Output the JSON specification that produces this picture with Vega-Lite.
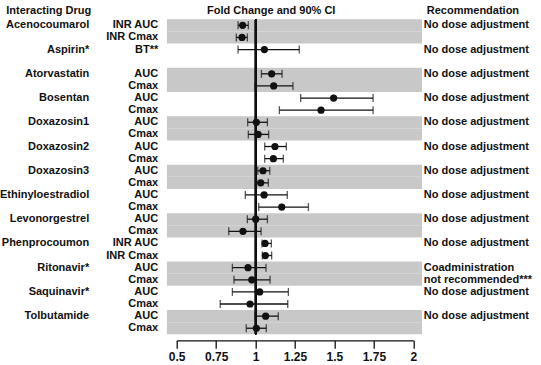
{
  "$schema": "https://vega.github.io/schema/vega-lite/v6.json",
  "width": 236.6,
  "height": 315,
  "autosize": {"type": "none"},
  "padding": {"left": 176.7, "top": 19.3, "right": 127.7, "bottom": 30.7},
  "background": "white",
  "config": {
    "view": {"stroke": null},
    "mark": {"invalid": "break-paths-show-domains"},
    "axis": {
      "labelFont": "Liberation Sans, Arial, sans-serif",
      "labelFontWeight": "bold",
      "labelFontSize": 11,
      "labelColor": "#111111",
      "titleFont": "Liberation Sans, Arial, sans-serif",
      "titleFontWeight": "bold",
      "titleFontSize": 11,
      "titleColor": "#111111",
      "grid": false
    }
  },
  "data": {
    "values": [
      {"drug": "Acenocoumarol", "param": "INR AUC", "est": 0.918, "lo": 0.889, "hi": 0.954, "rec": "No dose adjustment"},
      {"drug": "Acenocoumarol", "param": "INR Cmax", "est": 0.914, "lo": 0.878, "hi": 0.948, "rec": ""},
      {"drug": "Aspirin*", "param": "BT**", "est": 1.056, "lo": 0.889, "hi": 1.277, "rec": "No dose adjustment"},
      {"drug": "", "param": "", "est": null, "lo": null, "hi": null, "rec": ""},
      {"drug": "Atorvastatin", "param": "AUC", "est": 1.102, "lo": 1.037, "hi": 1.168, "rec": "No dose adjustment"},
      {"drug": "Atorvastatin", "param": "Cmax", "est": 1.115, "lo": 0.997, "hi": 1.237, "rec": ""},
      {"drug": "Bosentan", "param": "AUC", "est": 1.495, "lo": 1.286, "hi": 1.745, "rec": "No dose adjustment"},
      {"drug": "Bosentan", "param": "Cmax", "est": 1.415, "lo": 1.151, "hi": 1.745, "rec": ""},
      {"drug": "Doxazosin1", "param": "AUC", "est": 1.005, "lo": 0.95, "hi": 1.075, "rec": "No dose adjustment"},
      {"drug": "Doxazosin1", "param": "Cmax", "est": 1.016, "lo": 0.954, "hi": 1.083, "rec": ""},
      {"drug": "Doxazosin2", "param": "AUC", "est": 1.123, "lo": 1.058, "hi": 1.195, "rec": "No dose adjustment"},
      {"drug": "Doxazosin2", "param": "Cmax", "est": 1.113, "lo": 1.058, "hi": 1.176, "rec": ""},
      {"drug": "Doxazosin3", "param": "AUC", "est": 1.047, "lo": 1.014, "hi": 1.09, "rec": "No dose adjustment"},
      {"drug": "Doxazosin3", "param": "Cmax", "est": 1.033, "lo": 1.007, "hi": 1.081, "rec": ""},
      {"drug": "Ethinyloestradiol", "param": "AUC", "est": 1.054, "lo": 0.935, "hi": 1.201, "rec": "No dose adjustment"},
      {"drug": "Ethinyloestradiol", "param": "Cmax", "est": 1.166, "lo": 1.02, "hi": 1.335, "rec": ""},
      {"drug": "Levonorgestrel", "param": "AUC", "est": 1.001, "lo": 0.948, "hi": 1.075, "rec": "No dose adjustment"},
      {"drug": "Levonorgestrel", "param": "Cmax", "est": 0.92, "lo": 0.83, "hi": 1.035, "rec": ""},
      {"drug": "Phenprocoumon", "param": "INR AUC", "est": 1.06, "lo": 1.041, "hi": 1.1, "rec": "No dose adjustment"},
      {"drug": "Phenprocoumon", "param": "INR Cmax", "est": 1.062, "lo": 1.043, "hi": 1.102, "rec": ""},
      {"drug": "Ritonavir*", "param": "AUC", "est": 0.952, "lo": 0.853, "hi": 1.066, "rec": "Coadministration"},
      {"drug": "Ritonavir*", "param": "Cmax", "est": 0.976, "lo": 0.863, "hi": 1.092, "rec": "not recommended***"},
      {"drug": "Saquinavir*", "param": "AUC", "est": 1.026, "lo": 0.853, "hi": 1.208, "rec": "No dose adjustment"},
      {"drug": "Saquinavir*", "param": "Cmax", "est": 0.965, "lo": 0.776, "hi": 1.204, "rec": ""},
      {"drug": "Tolbutamide", "param": "AUC", "est": 1.064, "lo": 0.997, "hi": 1.144, "rec": "No dose adjustment"},
      {"drug": "Tolbutamide", "param": "Cmax", "est": 1.005, "lo": 0.941, "hi": 1.068, "rec": ""}
    ]
  },
  "transform": [
    {"calculate": "datum.drug + '|' + datum.param + '|' + datum.rec", "as": "key"}
  ],
  "resolve": {"axis": {"x": "independent", "y": "independent"}},
  "layer": [
    {
      "mark": {"type": "rect"},
      "encoding": {
        "y": {"field": "key", "type": "nominal", "sort": null, "axis": null,
              "scale": {"type": "band", "paddingInner": 0, "paddingOuter": 0}},
        "x": {"datum": 0.438, "type": "quantitative", "axis": null,
              "scale": {"domain": [0.5, 2], "nice": false, "zero": false}},
        "x2": {"datum": 2.055},
        "fill": {
          "condition": {"test": "indexof(['Acenocoumarol','Atorvastatin','Doxazosin1','Doxazosin3','Levonorgestrel','Ritonavir*','Tolbutamide'], datum.drug) >= 0", "value": "#c8c8c8"},
          "value": "transparent"
        }
      }
    },
    {
      "mark": {"type": "rule", "color": "#111111", "strokeWidth": 1.2},
      "encoding": {
        "x": {"datum": 1, "type": "quantitative", "axis": null}
      }
    },
    {
      "mark": {"type": "rule", "color": "#111111", "strokeWidth": 1.3},
      "encoding": {
        "y": {"field": "key", "type": "nominal", "sort": null,
              "scale": {"type": "band", "paddingInner": 0, "paddingOuter": 0},
              "axis": {
                "orient": "left", "ticks": false, "domain": false, "labelPadding": 88,
                "labelOverlap": false, "labelLimit": 200,
                "labelExpr": "test(/Cmax/, split(datum.value, '|')[1]) ? '' : split(datum.value, '|')[0]",
                "title": "Interacting Drug", "titleAngle": 0, "titleAlign": "left",
                "titleBaseline": "middle", "titleX": -171, "titleY": -9,
                "titleColor": "#111111", "titleFontWeight": "bold", "titleFontSize": 11,
                "titleFont": "Liberation Sans, Arial, sans-serif"
              }},
        "x": {"field": "lo", "type": "quantitative", "axis": null},
        "x2": {"field": "hi"}
      }
    },
    {
      "mark": {"type": "tick", "color": "#111111", "size": 8, "thickness": 1.3},
      "encoding": {
        "y": {"field": "key", "type": "nominal", "sort": null,
              "scale": {"type": "band", "paddingInner": 0, "paddingOuter": 0},
              "axis": {
                "orient": "left", "ticks": false, "domain": false, "labelPadding": 19,
                "labelOverlap": false, "labelLimit": 200,
                "labelExpr": "split(datum.value, '|')[1]",
                "title": "Fold Change and 90% CI", "titleAngle": 0, "titleAlign": "center",
                "titleBaseline": "middle", "titleX": 94, "titleY": -9,
                "titleColor": "#111111", "titleFontWeight": "bold", "titleFontSize": 11,
                "titleFont": "Liberation Sans, Arial, sans-serif"
              }},
        "x": {"field": "lo", "type": "quantitative", "axis": null}
      }
    },
    {
      "mark": {"type": "tick", "color": "#111111", "size": 8, "thickness": 1.3},
      "encoding": {
        "y": {"field": "key", "type": "nominal", "sort": null,
              "scale": {"type": "band", "paddingInner": 0, "paddingOuter": 0},
              "axis": {
                "orient": "right", "ticks": false, "domain": false, "labelPadding": 10,
                "labelOverlap": false, "labelLimit": 200,
                "labelExpr": "split(datum.value, '|')[2]",
                "title": "Recommendation", "titleAngle": 0, "titleAlign": "left",
                "titleBaseline": "middle", "titleX": 13, "titleY": -9,
                "titleColor": "#111111", "titleFontWeight": "bold", "titleFontSize": 11,
                "titleFont": "Liberation Sans, Arial, sans-serif"
              }},
        "x": {"field": "hi", "type": "quantitative", "axis": null}
      }
    },
    {
      "mark": {"type": "point", "filled": true, "color": "#111111", "size": 52, "opacity": 1},
      "encoding": {
        "y": {"field": "key", "type": "nominal", "sort": null,
              "scale": {"type": "band", "paddingInner": 0, "paddingOuter": 0},
              "axis": null},
        "x": {"field": "est", "type": "quantitative",
              "axis": {
                "orient": "bottom", "offset": 6, "values": [0.5, 0.75, 1, 1.25, 1.5, 1.75, 2],
                "labelExpr": "'' + datum.value", "title": null, "tickSize": 8, "tickWidth": 1.3, "tickColor": "#111111",
                "domainColor": "#111111", "domainWidth": 1.3, "labelPadding": 3, "labelFontSize": 12,
                "labelFlush": false, "labelOverlap": false
              }}
      }
    }
  ]
}
